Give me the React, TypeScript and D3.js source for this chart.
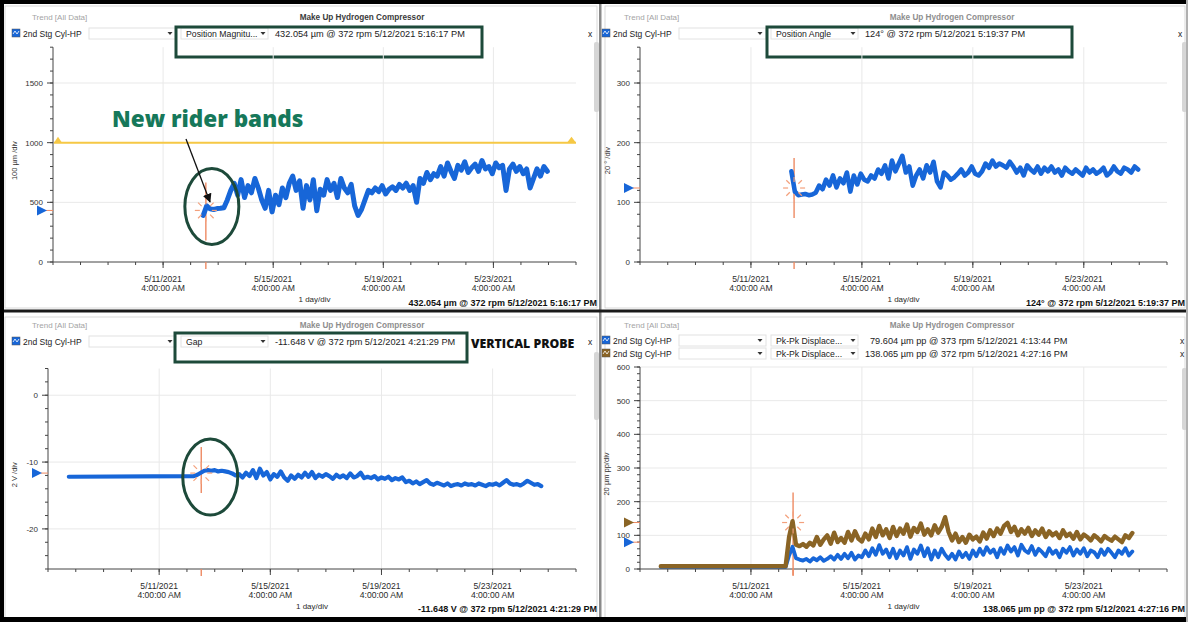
import React from 'react';
import * as d3 from 'd3';

const FONT = "'Liberation Sans', Arial, sans-serif";
const BLUE = '#1766d8';
const BROWN = '#8a6425';
const YELLOW = '#f6c845';
const CURSOR = '#ee8a63';
const DARK_GREEN = '#1d4a3a';
const TEAL = '#16785a';

// shared time axis (1 day/div)
const axisStart = new Date(2021, 4, 7, 4);
const axisEnd = new Date(2021, 4, 26, 4);
const majorDates = [new Date(2021, 4, 11, 4), new Date(2021, 4, 15, 4), new Date(2021, 4, 19, 4), new Date(2021, 4, 23, 4)];
const majorDateLabels = ['5/11/2021', '5/15/2021', '5/19/2021', '5/23/2021'];
const majorTimeLabel = '4:00:00 AM';
const sampleHours = 3;

// Position Magnitude (µm)
const magnitudeStart = new Date(2021, 4, 12, 15);
const magnitudeValues = [
  390, 470,
  445, 440, 448, 450, 455,
  520, 600, 660,
  560, 690, 540, 640, 580, 700, 620,
  520, 450, 600, 420,
  560, 480, 620, 540,
  660, 720, 600, 680,
  450, 640, 520, 690, 430, 610,
  560, 690, 600, 660, 540, 700, 620, 580, 650,
  470, 390, 440, 520,
  600, 580, 620, 590, 640, 570, 610, 630, 600, 650,
  620, 660, 600, 640, 500,
  700, 660, 750, 690, 740, 720,
  800, 720, 830, 760, 700, 810, 770, 840, 750, 790,
  820, 760, 850, 780, 800, 740, 830, 790, 810,
  600, 780, 820,
  760, 800, 740, 780,
  620, 700,
  780, 720, 800, 760,
];
const magnitudeTicks = [0, 500, 1000, 1500];
const magnitudeAlarm = 1000;
const magnitudeCursorTime = new Date(2021, 4, 12, 17, 16, 17);
const magnitudeCursorValue = 432.054;

// Position Angle (deg)
const angleStart = new Date(2021, 4, 12, 15);
const angleValues = [
  152, 118,
  112, 113, 114, 112, 113, 116, 128,
  122, 138, 128, 145, 125, 140, 132, 150, 118, 145,
  130, 148, 138, 135, 145, 140, 155, 148,
  162, 140, 170, 152, 165, 178,
  150, 160, 128, 145, 155, 140, 162, 150,
  168, 135, 125, 150, 145, 138,
  142, 148, 155, 145, 150, 160, 148, 145, 152,
  165, 158, 170, 160, 165, 162, 158, 168, 160,
  150, 158, 145, 162, 155, 150, 160, 148, 158, 152, 160,
  150, 155, 145, 158, 152, 148, 155, 150, 145, 158, 150,
  155, 148, 152, 158, 145, 150, 160, 152, 148, 158, 155, 150, 160, 155,
];
const angleTicks = [0, 100, 200, 300];
const angleCursorTime = new Date(2021, 4, 12, 17, 19, 37);
const angleCursorValue = 124;

// Gap (V)
const gapLeadTime = new Date(2021, 4, 7, 22);
const gapLeadValue = -12.2;
const gapStart = new Date(2021, 4, 12, 10);
const gapValues = [
  -12.1, -11.9, -11.6, -11.3,
  -11.2, -11.3, -11.2, -11.4, -11.3, -11.4, -11.5,
  -11.7, -12.0, -11.8, -12.3,
  -11.6, -12.1, -11.2, -12.4, -11.0, -12.0, -11.5, -12.6, -11.8, -12.2, -11.4,
  -12.3, -12.8, -12.0, -12.5, -11.9, -12.3, -11.6, -12.2,
  -11.5, -12.4, -11.9, -12.2, -11.8, -12.1, -12.5, -11.9, -12.3, -12.0, -12.4,
  -11.7, -12.3, -12.1, -11.6, -12.4, -12.2,
  -12.4, -12.1, -12.6, -12.3, -12.5, -12.2, -12.7, -12.4, -12.6, -12.3,
  -13.0, -12.8, -13.2, -12.9, -13.3, -13.0, -12.7, -13.2, -13.4, -13.1,
  -13.3, -13.5, -13.2, -13.6, -13.4, -13.3, -13.5, -13.2, -13.4, -13.3,
  -13.5, -13.2, -13.4, -13.6, -13.3, -13.4, -13.2, -13.5, -13.1, -12.7,
  -13.2, -13.4, -13.3, -13.5, -13.2, -12.8, -13.1, -13.4, -13.3, -13.6,
];
const gapTicks = [-20, -10, 0];
const gapCursorTime = new Date(2021, 4, 12, 16, 21, 29);
const gapCursorValue = -11.648;

// Pk-Pk displacement (µm pp), two channels
const pkpkLeadTime = new Date(2021, 4, 7, 22);
const pkpkStart = new Date(2021, 4, 12, 10);
const pkpkBlueLead = 6;
const pkpkBlueValues = [
  6, 40, 66, 32,
  28, 25, 30, 22, 32, 26, 35, 24, 30,
  38, 28, 42, 30, 45, 32, 48, 28,
  40, 35, 55, 38, 62, 42, 71, 45, 58, 35,
  60, 32, 55, 40, 65, 30, 58, 45, 70, 38,
  62, 28, 55, 35, 60, 42,
  30, 45, 28, 52, 35, 48, 30, 55, 38,
  60, 42, 65, 48, 58, 35, 62, 45, 70,
  52, 65, 40, 72, 55, 48, 68, 42, 60, 50,
  38, 62, 45, 55, 35, 60, 48, 65, 40, 58,
  45, 62, 38, 55, 50, 35, 58, 42, 60, 48,
  35, 55, 45, 62, 40, 52,
];
const pkpkBrownLead = 8;
const pkpkBrownValues = [
  8, 95, 142, 72,
  68, 74, 66, 78, 70, 95, 72, 88, 100,
  75, 108, 80, 92, 78, 110, 85, 112,
  90, 82, 105, 88, 120, 95, 128, 100, 118, 92,
  125, 98, 120, 105, 132, 96, 122, 110, 135, 102,
  118, 100, 130, 108, 125, 154,
  110, 85, 105, 80, 95, 78, 102, 88, 96,
  82, 108, 90, 115, 98, 120, 105, 128, 137,
  110, 125, 100, 118, 105, 122, 98, 115, 102, 120,
  95, 112, 100, 108, 92, 115, 98, 105, 90, 110,
  88, 102, 95, 85, 100, 92, 82, 98, 90, 84,
  96, 88, 80, 100, 92, 107,
];
const pkpkTicks = [0, 100, 200, 300, 400, 500, 600];
const pkpkBlueCursorValue = 79.604;
const pkpkBrownCursorTime = new Date(2021, 4, 12, 16, 27, 16);
const pkpkBrownCursorValue = 138.065;

type Pt = [Date, number];

function toPoints(start: Date, values: number[], lead?: Pt): Pt[] {
  const pts: Pt[] = values.map((v, i) => [d3.timeHour.offset(start, i * sampleHours), v]);
  return lead ? [lead, ...pts] : pts;
}

const panels = [
  {
    id: 'tl', frame: [0, 0, 600, 311], left: 53, right: 576, top: 47.2, bottom: 262,
    yDomain: [0, 1800], yTicks: magnitudeTicks, yMinor: 100, yLabel: '100 µm /div', yLabelX: 17,
    series: [{ color: BLUE, width: 5, pts: toPoints(magnitudeStart, magnitudeValues) }],
    markers: [{ color: BLUE, value: magnitudeCursorValue }],
    cursor: { time: magnitudeCursorTime, value: magnitudeCursorValue, up: 28, down: 30, toAxis: false },
    alarm: magnitudeAlarm,
    hdr: {
      left: 10, trendX: 32, trendBase: 20, titleX: 362, titleColor: '#3a3a3a', closeX: 588,
      rows: [{ base: 37, color: BLUE, param: 'Position Magnitu...', value: '432.054 µm @ 372 rpm 5/12/2021 5:16:17 PM', dx: 0 }],
      box: [176, 27, 306, 30],
    },
    scroll: [594, 42, 5, 70],
    readout: '432.054 µm @ 372 rpm 5/12/2021 5:16:17 PM', readoutX: 597, readoutY: 306,
  },
  {
    id: 'tr', frame: [600, 0, 588, 311], left: 640, right: 1167, top: 47.2, bottom: 262,
    yDomain: [0, 360], yTicks: angleTicks, yMinor: 20, yLabel: '20 ° /div', yLabelX: 610,
    series: [{ color: BLUE, width: 4.6, pts: toPoints(angleStart, angleValues) }],
    markers: [{ color: BLUE, value: angleCursorValue }],
    cursor: { time: angleCursorTime, value: angleCursorValue, up: 30, down: 30, toAxis: false },
    alarm: null,
    hdr: {
      left: 600, trendX: 624, trendBase: 20, titleX: 952, titleColor: '#8e8e8e', closeX: 1178,
      rows: [{ base: 37, color: BLUE, param: 'Position Angle', value: '124° @ 372 rpm 5/12/2021 5:19:37 PM', dx: 0 }],
      box: [767, 27, 305, 30],
    },
    scroll: [1182, 42, 5, 70],
    readout: '124° @ 372 rpm 5/12/2021 5:19:37 PM', readoutX: 1185, readoutY: 306,
  },
  {
    id: 'bl', frame: [0, 311, 600, 311], left: 48, right: 576, top: 368.5, bottom: 569,
    yDomain: [-26, 4], yTicks: gapTicks, yMinor: 2, yLabel: '2 V /div', yLabelX: 17,
    series: [{ color: BLUE, width: 4.2, pts: toPoints(gapStart, gapValues, [gapLeadTime, gapLeadValue]) }],
    markers: [{ color: BLUE, value: gapCursorValue }],
    cursor: { time: gapCursorTime, value: gapCursorValue, up: 26, down: 20, toAxis: false },
    alarm: null,
    hdr: {
      left: 10, trendX: 32, trendBase: 328, titleX: 362, titleColor: '#8e8e8e', closeX: 588,
      rows: [{ base: 345, color: BLUE, param: 'Gap', value: '-11.648 V @ 372 rpm 5/12/2021 4:21:29 PM', dx: 0 }],
      box: [175, 333, 292, 29],
    },
    scroll: [594, 352, 5, 68],
    readout: '-11.648 V @ 372 rpm 5/12/2021 4:21:29 PM', readoutX: 597, readoutY: 612,
  },
  {
    id: 'br', frame: [600, 311, 588, 311], left: 640, right: 1167, top: 367, bottom: 569,
    yDomain: [0, 600], yTicks: pkpkTicks, yMinor: 20, yLabel: '20 µm pp/div', yLabelX: 609,
    series: [
      { color: BLUE, width: 3.8, pts: toPoints(pkpkStart, pkpkBlueValues, [pkpkLeadTime, pkpkBlueLead]) },
      { color: BROWN, width: 4.4, pts: toPoints(pkpkStart, pkpkBrownValues, [pkpkLeadTime, pkpkBrownLead]) },
    ],
    markers: [{ color: BROWN, value: pkpkBrownCursorValue }, { color: BLUE, value: pkpkBlueCursorValue }],
    cursor: { time: pkpkBrownCursorTime, value: pkpkBrownCursorValue, up: 30, down: 0, toAxis: true },
    alarm: null,
    hdr: {
      left: 600, trendX: 624, trendBase: 328, titleX: 952, titleColor: '#8e8e8e', closeX: 1180,
      rows: [
        { base: 344, color: BLUE, param: 'Pk-Pk Displace...', value: '79.604 µm pp @ 373 rpm 5/12/2021 4:13:44 PM', dx: 5 },
        { base: 357, color: BROWN, param: 'Pk-Pk Displace...', value: '138.065 µm pp @ 372 rpm 5/12/2021 4:27:16 PM', dx: 0 },
      ],
      box: null,
    },
    scroll: [1182, 368, 5, 62],
    readout: '138.065 µm pp @ 372 rpm 5/12/2021 4:27:16 PM', readoutX: 1185, readoutY: 612,
  },
];

function DropArrow({ x, y }: { x: number; y: number }) {
  return <path d={`M${x - 2.5},${y - 5}L${x + 2.5},${y - 5}L${x},${y - 2}Z`} fill="#333" />;
}

function Header({ h }: any) {
  const hx = h.left;
  return (
    <g fontFamily={FONT}>
      <text x={h.trendX} y={h.trendBase} fontSize={8} fill="#a4a4a4">Trend  [All Data]</text>
      <text x={h.titleX} y={h.trendBase} fontSize={8.2} fontWeight="bold" fill={h.titleColor} textAnchor="middle">
        Make Up Hydrogen Compressor
      </text>
      {h.rows.map((r: any, i: number) => (
        <g key={i}>
          <rect x={hx + 2} y={r.base - 8} width={8} height={8} fill={r.color} stroke="#555" strokeWidth={0.5} />
          <path d={`M${hx + 3},${r.base - 3}l2,-3l2,3l2,-3`} stroke="#fff" strokeWidth={0.8} fill="none" />
          <text x={hx + 13} y={r.base} fontSize={8.5} fill="#222">2nd Stg Cyl-HP</text>
          <rect x={hx + 79} y={r.base - 9} width={87} height={11} fill="#fff" stroke="#e2e2e2" />
          <DropArrow x={hx + 160} y={r.base} />
          <rect x={hx + 171} y={r.base - 9} width={87} height={11} fill="#fff" stroke="#e2e2e2" />
          <text x={hx + 176} y={r.base} fontSize={8.7} fill="#222">{r.param}</text>
          <DropArrow x={hx + 253} y={r.base} />
          <text x={hx + 265 + r.dx} y={r.base} fontSize={9.2} fill="#222">{r.value}</text>
          <text x={h.closeX} y={r.base} fontSize={8.5} fill="#222">x</text>
        </g>
      ))}
      {h.box && (
        <rect x={h.box[0]} y={h.box[1]} width={h.box[2]} height={h.box[3]} fill="none" stroke={DARK_GREEN} strokeWidth={3} />
      )}
    </g>
  );
}

function Burst({ cx, cy }: { cx: number; cy: number }) {
  const angles = d3.range(0, 360, 45);
  return (
    <g stroke="#f3a07c" strokeWidth={1.2}>
      {angles.map((a) => {
        const r = (a * Math.PI) / 180;
        return <line key={a} x1={cx + 6 * Math.cos(r)} y1={cy + 6 * Math.sin(r)} x2={cx + 11 * Math.cos(r)} y2={cy + 11 * Math.sin(r)} />;
      })}
    </g>
  );
}

function Panel({ p }: any) {
  const x = d3.scaleTime().domain([axisStart, axisEnd]).range([p.left, p.right]);
  const y = d3.scaleLinear().domain(p.yDomain).range([p.bottom, p.top]);
  const minorY = d3.range(p.yDomain[0], p.yDomain[1] + 1e-6, p.yMinor);
  const minorX = d3.range(0, d3.timeDay.count(axisStart, axisEnd) + 1).map((i) => d3.timeDay.offset(axisStart, i));
  const line = d3.line<Pt>().x((d) => x(d[0])).y((d) => y(d[1]));
  const cx = x(p.cursor.time);
  const cy = y(p.cursor.value);
  const [fx, fy, fw, fh] = p.frame;

  return (
    <g>
      <rect x={fx + 5} y={fy + 6} width={fw - 8} height={fh - 9} fill="#fff" stroke="#d0d0d0" strokeWidth={0.8} />
      <Header h={p.hdr} />
      <rect x={p.scroll[0]} y={p.scroll[1]} width={p.scroll[2]} height={p.scroll[3]} rx={2} fill="#d6d6d6" />

      {/* grid */}
      <g stroke="#e9e9e9" strokeWidth={1}>
        {p.yTicks.filter((t: number) => t !== p.yDomain[0]).map((t: number) => (
          <line key={t} x1={p.left} x2={p.right} y1={y(t)} y2={y(t)} />
        ))}
        {majorDates.map((d, i) => (
          <line key={i} x1={x(d)} x2={x(d)} y1={p.top} y2={p.bottom} />
        ))}
      </g>

      {/* y axis */}
      <g stroke="#444" strokeWidth={1}>
        <line x1={p.left} x2={p.left} y1={p.top} y2={p.bottom} />
        {minorY.map((t: number) => (
          <line key={t} x1={p.left - 3} x2={p.left} y1={y(t)} y2={y(t)} />
        ))}
        {p.yTicks.map((t: number) => (
          <line key={'M' + t} x1={p.left - 6} x2={p.left} y1={y(t)} y2={y(t)} />
        ))}
      </g>
      <g fontFamily={FONT} fontSize={8} fill="#333" textAnchor="end">
        {p.yTicks.map((t: number) => (
          <text key={t} x={p.left - 10} y={y(t) + 3}>{t}</text>
        ))}
      </g>
      <text
        transform={`translate(${p.yLabelX},${(p.top + p.bottom) / 2 + 6}) rotate(-90)`}
        fontFamily={FONT} fontSize={7.5} fill="#333" textAnchor="middle"
      >
        {p.yLabel}
      </text>

      {/* x axis */}
      <g stroke="#444" strokeWidth={1}>
        <line x1={p.left} x2={p.right} y1={p.bottom} y2={p.bottom} />
        {minorX.map((d, i) => (
          <line key={i} x1={x(d)} x2={x(d)} y1={p.bottom} y2={p.bottom + 3} />
        ))}
        {majorDates.map((d, i) => (
          <line key={'M' + i} x1={x(d)} x2={x(d)} y1={p.bottom} y2={p.bottom + 6} />
        ))}
      </g>
      <g fontFamily={FONT} fontSize={8.6} fill="#2a2a2a" textAnchor="middle">
        {majorDates.map((d, i) => (
          <g key={i}>
            <text x={x(d)} y={p.bottom + 20}>{majorDateLabels[i]}</text>
            <text x={x(d)} y={p.bottom + 29}>{majorTimeLabel}</text>
          </g>
        ))}
        <text x={(p.left + p.right) / 2} y={p.bottom + 40} fontSize={8}>1 day/div</text>
      </g>

      {/* alarm level */}
      {p.alarm !== null && (
        <g fill={YELLOW}>
          <line x1={p.left + 1} x2={p.right} y1={y(p.alarm)} y2={y(p.alarm)} stroke={YELLOW} strokeWidth={2} />
          <path d={`M${p.left + 1},${y(p.alarm)}l4,-6l4,6Z`} />
          <path d={`M${p.right - 9},${y(p.alarm)}l4.5,-6l4.5,6Z`} />
        </g>
      )}

      {/* cursor */}
      <g stroke={CURSOR} strokeWidth={1.4}>
        <line x1={cx} x2={cx} y1={cy - p.cursor.up} y2={p.cursor.toAxis ? p.bottom + 6 : cy + p.cursor.down} />
        <line x1={cx} x2={cx} y1={p.bottom} y2={p.bottom + 7} />
      </g>

      {/* series */}
      {p.series.map((s: any, i: number) => (
        <path key={i} d={line(s.pts) || ''} fill="none" stroke={s.color} strokeWidth={s.width} strokeLinejoin="round" strokeLinecap="round" />
      ))}
      <Burst cx={cx} cy={cy} />

      {/* current value markers */}
      {p.markers.map((m: any, i: number) => (
        <g key={i}>
          <line x1={p.left - 7} x2={p.left} y1={y(m.value)} y2={y(m.value)} stroke={CURSOR} strokeWidth={1} />
          <path d={`M${p.left - 16},${y(m.value) - 5}L${p.left - 6},${y(m.value)}L${p.left - 16},${y(m.value) + 5}Z`} fill={m.color} />
        </g>
      ))}

      <text x={p.readoutX} y={p.readoutY} fontFamily={FONT} fontSize={9} fontWeight="bold" fill="#111" textAnchor="end">
        {p.readout}
      </text>
    </g>
  );
}

export default function App() {
  const tl = panels[0];
  const bl = panels[2];
  const xTl = d3.scaleTime().domain([axisStart, axisEnd]).range([tl.left, tl.right]);
  const yTl = d3.scaleLinear().domain(tl.yDomain).range([tl.bottom, tl.top]);
  const xBl = d3.scaleTime().domain([axisStart, axisEnd]).range([bl.left, bl.right]);
  const yBl = d3.scaleLinear().domain(bl.yDomain).range([bl.bottom, bl.top]);
  const e1x = xTl(magnitudeCursorTime) + 6;
  const e1y = yTl(magnitudeCursorValue) - 4;
  const e2x = xBl(gapCursorTime) + 9;
  const e2y = yBl(gapCursorValue) + 4;

  return (
    <svg width={1188} height={622} style={{ position: 'fixed', left: 0, top: 0, background: '#fff' }}>
      <defs>
        <marker id="arrowHead" viewBox="0 0 10 10" refX={9} refY={5} markerWidth={7} markerHeight={7} orient="auto">
          <path d="M0,0L10,5L0,10Z" fill="#111" />
        </marker>
      </defs>
      <rect width={1188} height={622} fill="#fff" />
      {panels.map((p) => (
        <Panel key={p.id} p={p} />
      ))}

      {/* annotations */}
      <ellipse cx={e1x} cy={e1y} rx={27} ry={38} fill="none" stroke={DARK_GREEN} strokeWidth={3} />
      <ellipse cx={e2x} cy={e2y} rx={27.5} ry={38} fill="none" stroke={DARK_GREEN} strokeWidth={3} />
      <text x={112} y={127} fontFamily="'Open Sans', sans-serif" fontWeight={800} fontSize={22.5} fill={TEAL}>
        New rider bands
      </text>
      <line x1={186} y1={139} x2={210} y2={202} stroke="#111" strokeWidth={1.3} markerEnd="url(#arrowHead)" />
      <text x={471} y={348} fontFamily="'Open Sans', sans-serif" fontWeight={800} fontSize={12.3} fill="#111">
        VERTICAL PROBE
      </text>

      {/* screen frame */}
      <rect x={599} y={0} width={2.5} height={622} fill="#8a8a8a" />
      <rect x={0} y={309.5} width={1188} height={3} fill="#1a1a1a" />
      <rect x={0} y={0} width={1188} height={4} fill="#000" />
      <rect x={0} y={0} width={4} height={622} fill="#000" />
      <rect x={0} y={617} width={1188} height={5} fill="#000" />
      <rect x={1186} y={0} width={2} height={622} fill="#b0b0b0" />
    </svg>
  );
}
